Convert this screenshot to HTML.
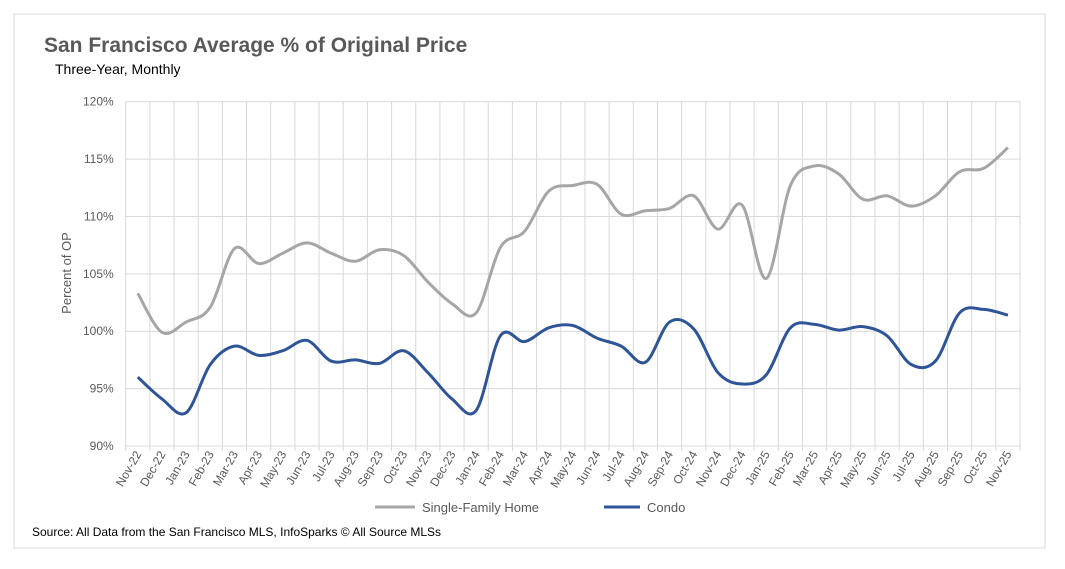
<!DOCTYPE html>
<html><head><meta charset="utf-8"><style>
body{margin:0;background:#fff;font-family:"Liberation Sans",sans-serif;}
svg text{font-family:"Liberation Sans",sans-serif;}
</style></head><body>
<svg width="1065" height="564" viewBox="0 0 1065 564">
<rect x="14" y="14" width="1031" height="534" fill="#fff" stroke="#d9d9d9"/>
<text x="44" y="52" font-size="21" font-weight="bold" fill="#595959">San Francisco Average % of Original Price</text>
<text x="55" y="74" font-size="14" fill="#000">Three-Year, Monthly</text>
<text transform="translate(71,273) rotate(-90)" text-anchor="middle" font-size="13" fill="#595959">Percent of OP</text>
<g id="grid"></g><g id="series"></g><g id="xlabels"></g>
<line x1="375" y1="507" x2="415" y2="507" stroke="#a6a6a6" stroke-width="3"/>
<text x="422" y="512" font-size="13" fill="#595959">Single-Family Home</text>
<line x1="604" y1="507" x2="640" y2="507" stroke="#2f5597" stroke-width="3"/>
<text x="647" y="512" font-size="13" fill="#595959">Condo</text>
<text x="32" y="536" font-size="12" fill="#000">Source: All Data from the San Francisco MLS, InfoSparks © All Source MLSs</text>
</svg>
<script>
const categories=["Nov-22","Dec-22","Jan-23","Feb-23","Mar-23","Apr-23","May-23","Jun-23","Jul-23","Aug-23","Sep-23","Oct-23","Nov-23","Dec-23","Jan-24","Feb-24","Mar-24","Apr-24","May-24","Jun-24","Jul-24","Aug-24","Sep-24","Oct-24","Nov-24","Dec-24","Jan-25","Feb-25","Mar-25","Apr-25","May-25","Jun-25","Jul-25","Aug-25","Sep-25","Oct-25","Nov-25"];
const sfhValues=[103.3,99.9,100.8,102.1,107.2,105.9,106.8,107.7,106.8,106.1,107.1,106.6,104.3,102.4,101.6,107.3,108.7,112.2,112.7,112.8,110.2,110.5,110.7,111.8,108.9,111.0,104.6,112.7,114.4,113.7,111.5,111.8,110.9,111.8,113.9,114.2,116.0];
const condoValues=[96.0,94.1,92.9,97.1,98.7,97.9,98.3,99.2,97.4,97.5,97.2,98.3,96.4,94.1,93.1,99.6,99.1,100.3,100.5,99.4,98.7,97.3,100.8,100.2,96.4,95.4,96.2,100.3,100.6,100.1,100.4,99.6,97.1,97.4,101.6,101.9,101.4];
const yTicks=[90,95,100,105,110,115,120];
const NS="http://www.w3.org/2000/svg";
const L=125.7,R=1020,T=101.7,B=446,yMin=90,yMax=120;
const bw=(R-L)/categories.length;
function xS(i){return L+bw*(i+0.5);}
function yS(v){return B-(v-yMin)/(yMax-yMin)*(B-T);}
function mk(tag,attrs,parent){const e=document.createElementNS(NS,tag);for(const k in attrs)e.setAttribute(k,attrs[k]);parent.appendChild(e);return e;}
const grid=document.getElementById('grid');
yTicks.forEach(t=>{
 const ln=mk('line',{x1:L,x2:R,y1:yS(t),y2:yS(t),stroke:'#d9d9d9','stroke-width':1},grid);
 
 
 const tx=mk('text',{x:L-12,y:yS(t)+4,'text-anchor':'end','font-size':12,fill:'#595959'},grid);
 tx.textContent=t+'%';
 
 
});
for(let i=0;i<=categories.length;i++){
 const x=L+bw*i;
 const ln=mk('line',{x1:x,x2:x,y1:T,y2:B+5,stroke:'#d9d9d9','stroke-width':1},grid);
 
 
}
const xl=document.getElementById('xlabels');
categories.forEach((c,i)=>{
 const x=xS(i)+4,y=B+8;
 const tx=mk('text',{x:x,y:y,'text-anchor':'end','font-size':12,fill:'#595959',transform:`rotate(-60 ${x} ${y})`},xl);
 tx.textContent=c;
 
 
});
function smooth(vals){
 const p=vals.map((v,i)=>[xS(i),yS(v)]);
 let d=`M${p[0][0]},${p[0][1]}`;
 for(let i=0;i<p.length-1;i++){
  const p0=p[Math.max(0,i-1)],p1=p[i],p2=p[i+1],p3=p[Math.min(p.length-1,i+2)];
  const t=1/6;
  d+=` C${p1[0]+(p2[0]-p0[0])*t},${p1[1]+(p2[1]-p0[1])*t} ${p2[0]-(p3[0]-p1[0])*t},${p2[1]-(p3[1]-p1[1])*t} ${p2[0]},${p2[1]}`;
 }
 return d;
}
const sg=document.getElementById('series');
const s1=mk('path',{d:smooth(sfhValues),fill:'none',stroke:'#a6a6a6','stroke-width':3,'stroke-linejoin':'round'},sg);


const s2=mk('path',{d:smooth(condoValues),fill:'none',stroke:'#2f5597','stroke-width':3,'stroke-linejoin':'round'},sg);


</script>
</body></html>
